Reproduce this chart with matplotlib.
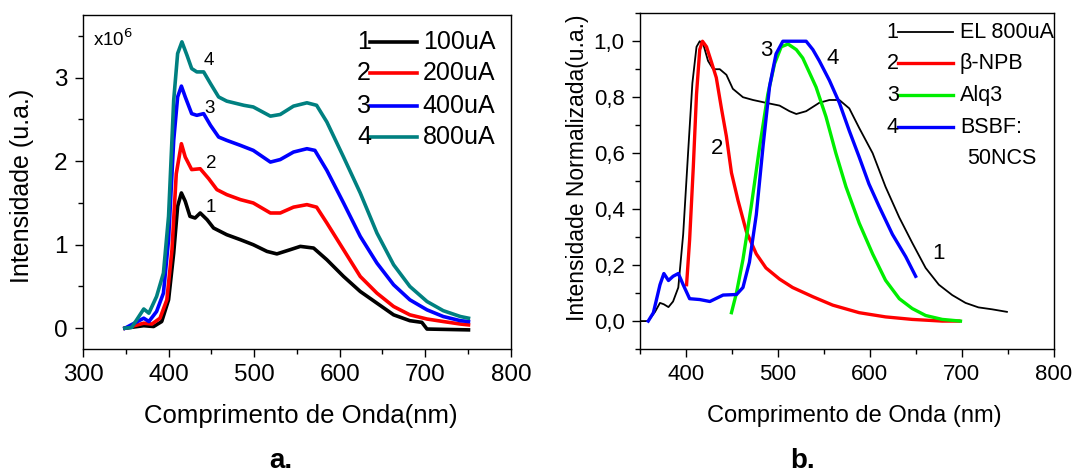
import numpy as np
import matplotlib
matplotlib.use("Agg")
import matplotlib.pyplot as plt
from matplotlib.ticker import MultipleLocator, FuncFormatter

plt.rcParams['font.family'] = ['Liberation Sans', 'DejaVu Sans']

# ---- panel a: EL spectra at different currents (x10^6 counts)
wlA1 = [349, 371, 382.5, 392, 400, 406, 410.6, 415, 419.5, 425, 431, 437, 445, 452.6, 468, 484, 499,
        515, 526.6, 542, 554, 569.5, 585, 604.5, 624, 643.5, 663, 682, 696, 702, 750.5]
iA1 = [0, 0.03, 0.02, 0.08, 0.34, 0.90, 1.46, 1.62, 1.52, 1.34, 1.32, 1.38, 1.30, 1.20, 1.12, 1.06, 1.00,
       0.92, 0.89, 0.94, 0.98, 0.96, 0.82, 0.62, 0.44, 0.30, 0.16, 0.09, 0.07, -0.01, -0.02]

wlA2 = [349, 371, 380.6, 390, 398, 404, 409, 415, 419.5, 427, 437, 447, 456.5, 468, 484, 499, 519,
        530.5, 546, 561.7, 573, 585, 604.5, 624, 643.5, 663, 682, 702, 721, 741, 750.5]
iA2 = [0, 0.06, 0.05, 0.12, 0.34, 0.94, 1.85, 2.21, 2.05, 1.90, 1.91, 1.79, 1.66, 1.60, 1.54, 1.50, 1.38,
       1.38, 1.45, 1.48, 1.45, 1.26, 0.94, 0.62, 0.42, 0.26, 0.16, 0.11, 0.08, 0.05, 0.04]

wlA3 = [349, 371, 377, 386, 394, 400, 406, 410.6, 415, 419.5, 427, 433, 441, 449, 458.5, 468, 484, 499,
        519, 530.5, 546, 561.7, 571, 585, 604.5, 624, 643.5, 663, 682, 702, 721, 741, 750.5]
iA3 = [0, 0.12, 0.08, 0.20, 0.42, 1.06, 2.25, 2.77, 2.90, 2.77, 2.57, 2.55, 2.57, 2.43, 2.29, 2.25, 2.19, 2.13,
       1.99, 2.02, 2.11, 2.15, 2.13, 1.89, 1.50, 1.10, 0.78, 0.52, 0.34, 0.22, 0.14, 0.09, 0.08]

wlA4 = [349, 357, 371, 377, 386, 394, 400, 406, 410.6, 415.6, 421.5, 427, 433, 441, 449, 458.5, 468, 488,
        499, 519, 530.5, 546, 561.7, 573, 585, 604.5, 624, 643.5, 663, 682, 702, 721, 741, 750.5]
iA4 = [0, 0.01, 0.23, 0.18, 0.38, 0.66, 1.34, 2.73, 3.29, 3.43, 3.27, 3.11, 3.07, 3.07, 2.93, 2.77, 2.72, 2.67,
       2.65, 2.54, 2.56, 2.66, 2.70, 2.67, 2.47, 2.05, 1.62, 1.14, 0.76, 0.50, 0.32, 0.21, 0.14, 0.12]

labelsA = ['100uA', '200uA', '400uA', '800uA']
colorsA = ['black', '#ff0000', '#0000ff', '#008080']

# ---- panel b: normalized spectra
wlEL = [350.2, 359, 366.4, 371.8, 376, 381, 386, 391.7, 397, 402.5, 407, 411.5, 415, 418.8, 424, 429.6,
        436.8, 444, 451, 462, 473, 487, 501.8, 512.6, 520, 530.7, 545, 556, 566.8, 577.6, 588.4, 603,
        617, 632, 646, 660.6, 675, 689.5, 704, 718, 733, 749]
iEL = [0, 0, 0.033, 0.065, 0.06, 0.05, 0.07, 0.12, 0.31, 0.61, 0.85, 0.98, 1.0, 0.99, 0.93, 0.90,
       0.90, 0.88, 0.83, 0.80, 0.79, 0.78, 0.77, 0.75, 0.74, 0.75, 0.78, 0.79, 0.79, 0.76, 0.69, 0.60,
       0.48, 0.37, 0.28, 0.19, 0.13, 0.093, 0.065, 0.049, 0.042, 0.033]

wlNPB = [400.7, 404, 408, 411.5, 415, 418, 422.4, 427.8, 433, 438.6, 444, 449.5, 456.7, 465.7, 476.5,
         487, 501.8, 516, 538, 559.6, 588.4, 617, 646, 678.7, 696.8]
iNPB = [0.13, 0.29, 0.55, 0.81, 0.97, 1.0, 0.98, 0.925, 0.87, 0.76, 0.66, 0.53, 0.43, 0.32, 0.24,
        0.19, 0.15, 0.12, 0.087, 0.057, 0.03, 0.015, 0.006, 0, 0]

wlAlq = [449.5, 454.9, 462, 471, 480, 489, 496.4, 503.6, 511, 520, 527, 534, 541.5, 552.3, 563, 574,
         588.4, 603, 617, 632, 646, 660.6, 678.7, 698.5]
iAlq = [0.03, 0.10, 0.22, 0.41, 0.62, 0.81, 0.92, 0.98, 0.99, 0.97, 0.94, 0.89, 0.836, 0.73, 0.60, 0.48,
        0.35, 0.24, 0.146, 0.08, 0.045, 0.02, 0.006, 0]

wlBS = [359, 364.6, 371.8, 376, 381, 386, 391.7, 397, 404, 415, 426, 440.4, 455, 462, 469, 476.5, 484,
        491, 498, 505.4, 516, 530.7, 538, 545, 556, 566.8, 577.6, 588.4, 599, 610, 624.5, 639, 649.8]
iBS = [0, 0.03, 0.13, 0.17, 0.145, 0.16, 0.17, 0.13, 0.08, 0.077, 0.07, 0.093, 0.095, 0.12, 0.21, 0.38, 0.63,
       0.84, 0.955, 1.0, 1.0, 1.0, 0.97, 0.93, 0.86, 0.78, 0.68, 0.586, 0.49, 0.41, 0.31, 0.23, 0.16]

labelsB = ['EL 800uA', '\u03b2-NPB', 'Alq3', 'BSBF:']
colorsB = ['black', '#ff0000', '#00ee00', '#0000ff']

fig = plt.figure(figsize=(10.75, 4.73), dpi=100)
axA = fig.add_axes([0.0772, 0.262, 0.398, 0.706])
axB = fig.add_axes([0.5953, 0.262, 0.385, 0.710])

# panel a
for x, y, c in zip([wlA1, wlA2, wlA3, wlA4], [iA1, iA2, iA3, iA4], colorsA):
    axA.plot(x, y, color=c, lw=2.6)
axA.set_xlim(300, 800)
axA.set_ylim(-0.25, 3.75)
axA.xaxis.set_major_locator(MultipleLocator(100))
axA.xaxis.set_minor_locator(MultipleLocator(50))
axA.yaxis.set_major_locator(MultipleLocator(1))
axA.yaxis.set_minor_locator(MultipleLocator(0.5))
axA.set_xlabel('Comprimento de Onda(nm)', fontsize=18.5)
axA.set_ylabel('Intensidade (u.a.)', fontsize=18)
axA.xaxis.set_label_coords(0.51, -0.2)
axA.xaxis.label.set_va('center')
axA.yaxis.set_label_coords(-0.143, 0.49)
axA.yaxis.label.set_va('center')
axA.tick_params(which='major', labelsize=17.5)
axA.text(0.023, 0.928, r'x10$^6$', transform=axA.transAxes, fontsize=13.5, va='center')
for lab, (tx, ty) in zip(['4', '3', '2', '1'], [(447, 3.21), (448, 2.63), (449.5, 1.97), (449.5, 1.44)]):
    axA.text(tx, ty, lab, fontsize=13.5, ha='center', va='center')
rowsA = [0.919, 0.826, 0.728, 0.635]
for i, (lab, c, ry) in enumerate(zip(labelsA, colorsA, rowsA)):
    axA.text(0.673, ry, str(i + 1), transform=axA.transAxes, fontsize=18, ha='right', va='center')
    axA.plot([0.671, 0.780], [ry, ry], transform=axA.transAxes, color=c, lw=2.6)
    axA.text(0.794, ry, lab, transform=axA.transAxes, fontsize=18, ha='left', va='center')

# panel b
axB.plot(wlEL, iEL, color=colorsB[0], lw=1.3)
axB.plot(wlNPB, iNPB, color=colorsB[1], lw=2.4)
axB.plot(wlAlq, iAlq, color=colorsB[2], lw=2.4)
axB.plot(wlBS, iBS, color=colorsB[3], lw=2.4)
axB.set_xlim(350, 800)
axB.set_ylim(-0.1, 1.1)
axB.xaxis.set_major_locator(MultipleLocator(100))
axB.xaxis.set_minor_locator(MultipleLocator(50))
axB.yaxis.set_major_locator(MultipleLocator(0.2))
axB.yaxis.set_minor_locator(MultipleLocator(0.1))
axB.yaxis.set_major_formatter(FuncFormatter(lambda v, p: ('%.1f' % v).replace('.', ',')))
axB.set_xlabel('Comprimento de Onda (nm)', fontsize=17)
axB.set_ylabel('Intensidade Normalizada(u.a.)', fontsize=16.5)
axB.xaxis.set_label_coords(0.517, -0.2)
axB.xaxis.label.set_va('center')
axB.yaxis.set_label_coords(-0.152, 0.54)
axB.yaxis.label.set_va('center')
axB.tick_params(which='major', labelsize=16)
for lab, (tx, ty) in zip(['3', '4', '2', '1'], [(487, 0.967), (560, 0.937), (434, 0.616), (675, 0.24)]):
    axB.text(tx, ty, lab, fontsize=16, ha='center', va='center')
rowsB = [0.943, 0.851, 0.756, 0.661]
lwB = [1.3, 2.4, 2.4, 2.4]
for i, (lab, c, ry, lw) in enumerate(zip(labelsB, colorsB, rowsB, lwB)):
    axB.text(0.625, ry, str(i + 1), transform=axB.transAxes, fontsize=15.5, ha='right', va='center')
    axB.plot([0.623, 0.756], [ry, ry], transform=axB.transAxes, color=c, lw=lw)
    axB.text(0.773, ry, lab, transform=axB.transAxes, fontsize=15.5, ha='left', va='center', clip_on=False)
axB.text(0.790, 0.568, '50NCS', transform=axB.transAxes, fontsize=15.5, ha='left', va='center')

for ax in (axA, axB):
    ax.tick_params(which='major', direction='out', length=6, width=1, pad=5)
    ax.tick_params(which='minor', direction='out', length=3.5, width=1)
    for s in ax.spines.values():
        s.set_linewidth(1)

fig.text(0.261, 0.026, 'a.', fontsize=20, fontweight='bold', ha='center', va='center')
fig.text(0.747, 0.026, 'b.', fontsize=20, fontweight='bold', ha='center', va='center')

fig.savefig('out.png', dpi=100)
